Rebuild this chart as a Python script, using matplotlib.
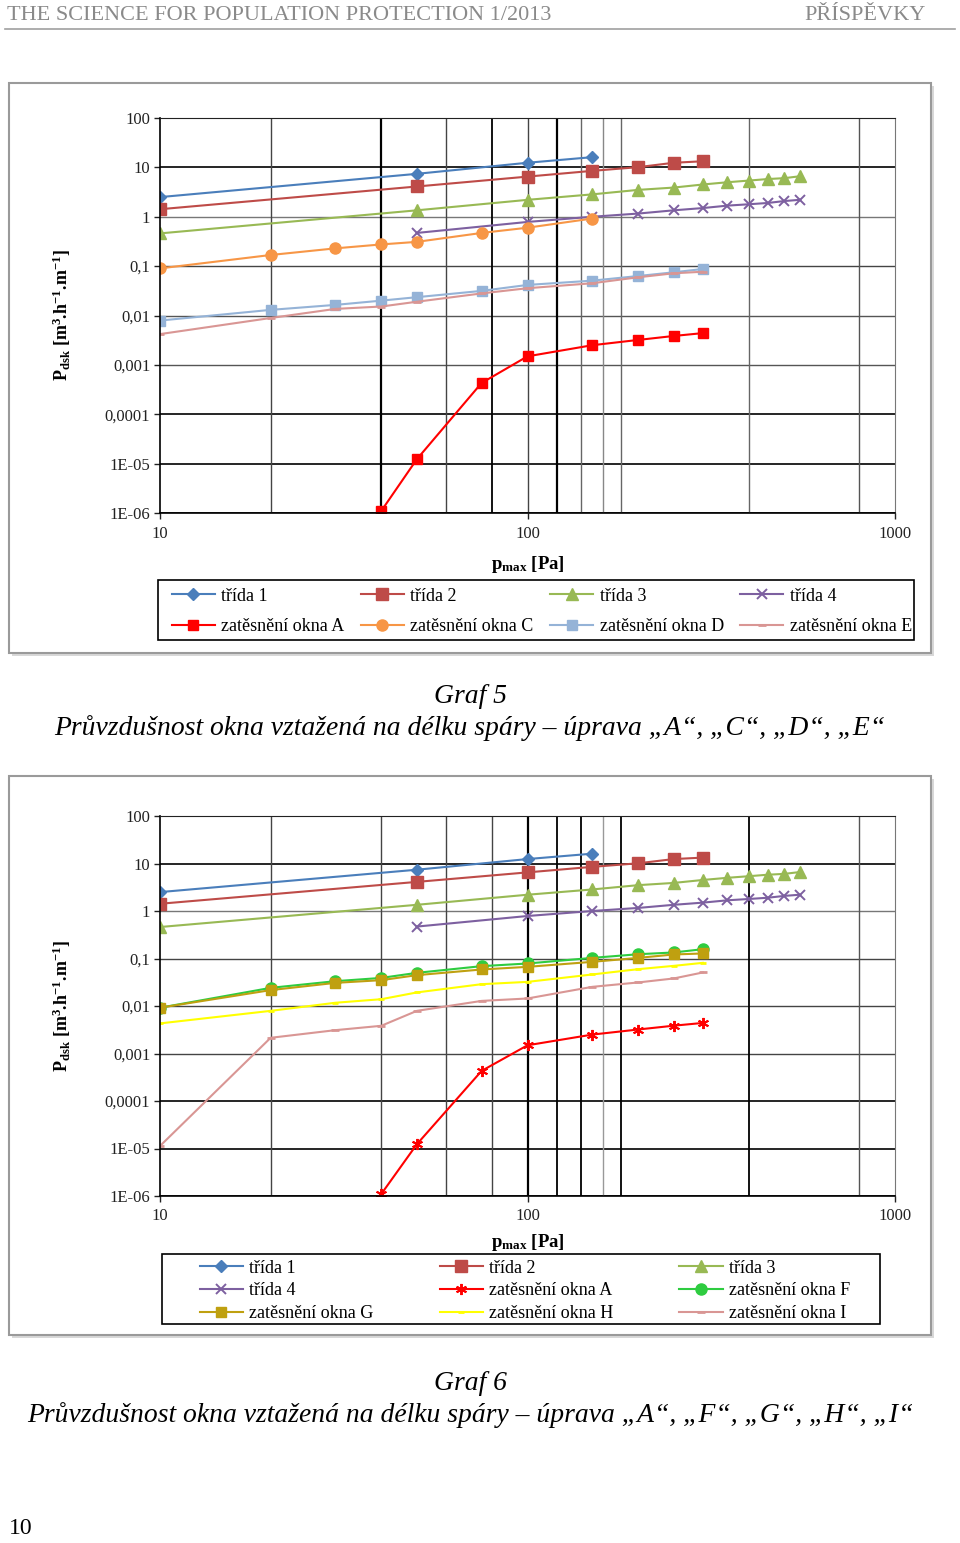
import numpy as np
import matplotlib.pyplot as plt
from matplotlib.patches import Rectangle
from matplotlib.ticker import NullLocator

plt.rcParams['font.family'] = ['Liberation Serif', 'DejaVu Serif']
plt.rcParams['mathtext.fontset'] = 'custom'
plt.rcParams['mathtext.rm'] = 'Liberation Serif:bold'
plt.rcParams['mathtext.it'] = 'Liberation Serif:italic:bold'
plt.rcParams['mathtext.bf'] = 'Liberation Serif:bold'

# --- data ---
y_ticks = [1e-6, 1e-5, 1e-4, 1e-3, 1e-2, 1e-1, 1, 10, 100]
y_labels = ['1E-06', '1E-05', '0,0001', '0,001', '0,01', '0,1', '1', '10', '100']
x_ticks = [10, 100, 1000]
x_labels = ['10', '100', '1000']
v_grid = [20, 40, 60, 80, 100, 120, 140, 160, 180, 400, 800]

p_t1 = [10, 50, 100, 150]
q_t1 = [2.5, 7.4, 12.4, 16.1]
p_t2 = [10, 50, 100, 150, 200, 250, 300]
q_t2 = [1.42, 4.1, 6.5, 8.5, 10.1, 12.4, 13.3]
p_t3 = [10, 50, 100, 150, 200, 250, 300, 350, 400, 450, 500, 550]
q_t3 = [0.46, 1.35, 2.2, 2.84, 3.5, 3.9, 4.5, 5.0, 5.4, 5.8, 6.05, 6.6]
p_t4 = [50, 100, 150, 200, 250, 300, 350, 400, 450, 500, 550]
q_t4 = [0.47, 0.785, 1.0, 1.16, 1.35, 1.5, 1.68, 1.79, 1.9, 2.08, 2.2]

p_A = [40, 50, 75, 100, 150, 200, 250, 300]
q_A = [1.1e-6, 1.23e-5, 4.3e-4, 1.49e-3, 2.5e-3, 3.2e-3, 3.85e-3, 4.4e-3]

p_seal = [10, 20, 30, 40, 50, 75, 100, 150, 200, 250, 300]
p_C = [10, 20, 30, 40, 50, 75, 100, 150]
q_C = [0.09, 0.168, 0.229, 0.275, 0.31, 0.47, 0.6, 0.92]
q_D = [0.0079, 0.013, 0.0164, 0.02, 0.0235, 0.0315, 0.0416, 0.0508, 0.063, 0.075, 0.0875]
q_E = [0.0042, 0.0089, 0.0136, 0.0152, 0.019, 0.028, 0.0357, 0.045, 0.0594, 0.0716, 0.077]
q_F = [0.0092, 0.0241, 0.0333, 0.039, 0.0499, 0.069, 0.0785, 0.103, 0.123, 0.134, 0.157]
q_G = [0.0092, 0.0216, 0.0307, 0.035, 0.0446, 0.0587, 0.0667, 0.085, 0.103, 0.1216, 0.1276]
q_H = [0.0043, 0.0079, 0.0117, 0.0139, 0.0193, 0.0288, 0.0322, 0.0461, 0.0596, 0.07, 0.081]
q_I = [1.13e-5, 0.00214, 0.0031, 0.00383, 0.0079, 0.0128, 0.0144, 0.0253, 0.0313, 0.038, 0.0508]

W, H = 960, 1543
fig = plt.figure(figsize=(W / 100, H / 100), dpi=100)


def fx(x):
    return x / W


def fy(y):
    return 1 - y / H


def px_axes(left, top, right, bottom):
    return fig.add_axes([fx(left), fy(bottom), (right - left) / W, (bottom - top) / H])


def setup(ax, vstyle, hstyle):
    ax.set_xscale('log')
    ax.set_yscale('log')
    ax.set_xlim(10, 1000)
    ax.set_ylim(1e-6, 100)
    ax.set_yticks(y_ticks)
    ax.set_yticklabels(y_labels)
    ax.set_xticks(x_ticks)
    ax.set_xticklabels(x_labels)
    ax.xaxis.set_minor_locator(NullLocator())
    ax.yaxis.set_minor_locator(NullLocator())
    for v, (c, w) in zip(y_ticks, hstyle):
        ax.axhline(v, color=c, lw=w, zorder=1)
    for v, (c, w) in zip(v_grid, vstyle):
        ax.axvline(v, color=c, lw=w, zorder=1)
    ax.tick_params(direction='out', length=4, width=1, labelsize=12, pad=3,
                   colors='#222222')
    ax.tick_params(axis='x', pad=5)
    for s in ['left', 'bottom']:
        ax.spines[s].set_color('black')
        ax.spines[s].set_linewidth(1.2)
    ax.spines['top'].set_color('#222222')
    ax.spines['right'].set_color('#777777')
    ax.set_ylabel(r'P$_{\rm dsk}$ [m$^{3}$.h$^{-1}$.m$^{-1}$]', fontsize=13,
                  fontweight='bold')
    ax.set_xlabel(r'p$_{\rm max}$ [Pa]', fontsize=13.5, fontweight='bold')
    ax.yaxis.set_label_coords(-0.118, 0.5)


def frame(left, top, right, bottom):
    fig.patches.append(Rectangle((fx(left + 3), fy(bottom + 3)), (right - left) / W,
                                 (bottom - top) / H, transform=fig.transFigure,
                                 facecolor='#d8d8d8', edgecolor='none', zorder=-2))
    fig.patches.append(Rectangle((fx(left), fy(bottom)), (right - left) / W,
                                 (bottom - top) / H, transform=fig.transFigure,
                                 facecolor='white', edgecolor='#9a9a9a', lw=1.5,
                                 zorder=-1))


def legend_box(left, top, right, bottom):
    fig.patches.append(Rectangle((fx(left), fy(bottom)), (right - left) / W,
                                 (bottom - top) / H, transform=fig.transFigure,
                                 facecolor='white', edgecolor='black', lw=1.2,
                                 zorder=0))


# header
fig.text(fx(7), fy(15), 'THE SCIENCE FOR POPULATION PROTECTION 1/2013', fontsize=16,
         color='#8a8a8a', ha='left', va='center')
fig.text(fx(926), fy(15), 'PŘÍSPĚVKY', fontsize=16, color='#8a8a8a', ha='right',
         va='center')
fig.add_artist(plt.Line2D([fx(5), fx(955)], [fy(29), fy(29)], color='#a0a0a0', lw=1.2))

# ---------- Graf 5 ----------
frame(9, 83, 931, 653)
ax1 = px_axes(160, 118, 895, 513)
v1 = [('#444', 1), ('#000', 1.6), ('#444', 1), ('#000', 1.3), ('#444', 1),
      ('#000', 1.6), ('#666', 1), ('#888', 1), ('#666', 1), ('#666', 1), ('#555', 1)]
h1 = [('#000', 1.2), ('#000', 1.2), ('#000', 1.2), ('#555', 1), ('#555', 1),
      ('#444', 1), ('#777', 1), ('#000', 1.2), ('#000', 1.2)]
setup(ax1, v1, h1)
ax1.xaxis.set_label_coords(0.5, -0.105)

l_t1, = ax1.plot(p_t1, q_t1, color='#4A7EBB', lw=1.5, marker='D', ms=6, label='třída 1')
l_t2, = ax1.plot(p_t2, q_t2, color='#BE4B48', lw=1.5, marker='s', ms=8, label='třída 2')
l_t3, = ax1.plot(p_t3, q_t3, color='#98B954', lw=1.5, marker='^', ms=8, label='třída 3')
l_t4, = ax1.plot(p_t4, q_t4, color='#7D60A0', lw=1.5, marker='x', ms=7, mew=1.4,
                 label='třída 4')
l_A, = ax1.plot(p_A, q_A, color='#FF0000', lw=1.5, marker='s', ms=7,
                label='zatěsnění okna A')
l_C, = ax1.plot(p_C, q_C, color='#F79646', lw=1.5, marker='o', ms=8,
                label='zatěsnění okna C')
l_D, = ax1.plot(p_seal, q_D, color='#95B3D7', lw=1.5, marker='s', ms=7,
                label='zatěsnění okna D')
l_E, = ax1.plot(p_seal, q_E, color='#D99694', lw=1.5, marker='_', ms=6, mew=2,
                label='zatěsnění okna E')

legend_box(158, 580, 914, 640)
hs1 = [l_t1, l_A, l_t2, l_C, l_t3, l_D, l_t4, l_E]
fig.legend(hs1, [h.get_label() for h in hs1], ncol=4, loc='upper left',
           bbox_to_anchor=(fx(168), fy(584)), frameon=False, fontsize=13,
           handlelength=2.4, handletextpad=0.35, columnspacing=0.9,
           labelspacing=0.75, borderpad=0.2, borderaxespad=0)

fig.text(fx(470), fy(696), 'Graf 5', fontsize=19.9, style='italic', ha='center',
         va='center')
fig.text(fx(470), fy(728),
         'Průvzdušnost okna vztažená na délku spáry – úprava „A“, „C“, „D“, „E“',
         fontsize=19.9, style='italic', ha='center', va='center')

# ---------- Graf 6 ----------
frame(9, 776, 931, 1335)
ax2 = px_axes(160, 816, 895, 1196)
v2 = [('#444', 1), ('#444', 1), ('#444', 1), ('#444', 1), ('#000', 1.6),
      ('#000', 1.3), ('#000', 1.3), ('#999', 1), ('#000', 1.3), ('#000', 1.3), ('#555', 1)]
h2 = [('#000', 1.2), ('#000', 1.2), ('#000', 1.2), ('#444', 1), ('#444', 1),
      ('#444', 1), ('#777', 1), ('#000', 1.2), ('#000', 1.2)]
setup(ax2, v2, h2)
ax2.xaxis.set_label_coords(0.5, -0.095)

m_t1, = ax2.plot(p_t1, q_t1, color='#4A7EBB', lw=1.5, marker='D', ms=6, label='třída 1')
m_t2, = ax2.plot(p_t2, q_t2, color='#BE4B48', lw=1.5, marker='s', ms=8, label='třída 2')
m_t3, = ax2.plot(p_t3, q_t3, color='#98B954', lw=1.5, marker='^', ms=8, label='třída 3')
m_t4, = ax2.plot(p_t4, q_t4, color='#7D60A0', lw=1.5, marker='x', ms=7, mew=1.4,
                 label='třída 4')
m_A, = ax2.plot(p_A, q_A, color='#FF0000', lw=1.5, marker=(6, 2, 0), ms=8, mew=1.4,
                label='zatěsnění okna A')
m_F, = ax2.plot(p_seal, q_F, color='#2ECC40', lw=1.5, marker='o', ms=8,
                label='zatěsnění okna F')
m_G, = ax2.plot(p_seal, q_G, color='#BFA010', lw=1.5, marker='s', ms=7.5,
                label='zatěsnění okna G')
m_H, = ax2.plot(p_seal, q_H, color='#FFFF00', lw=1.5, marker='_', ms=5, mew=2,
                label='zatěsnění okna H')
m_I, = ax2.plot(p_seal, q_I, color='#D99694', lw=1.5, marker='_', ms=6, mew=2,
                label='zatěsnění okna I')

legend_box(162, 1254, 880, 1324)
hs2 = [m_t1, m_t4, m_G, m_t2, m_A, m_H, m_t3, m_F, m_I]
fig.legend(hs2, [h.get_label() for h in hs2], ncol=3, loc='upper left',
           bbox_to_anchor=(fx(196), fy(1256)), frameon=False, fontsize=13,
           handlelength=2.4, handletextpad=0.35, columnspacing=3.65,
           labelspacing=0.32, borderpad=0.2, borderaxespad=0)

fig.text(fx(470), fy(1384), 'Graf 6', fontsize=19.9, style='italic', ha='center',
         va='center')
fig.text(fx(470), fy(1415),
         'Průvzdušnost okna vztažená na délku spáry – úprava „A“, „F“, „G“, „H“, „I“',
         fontsize=19.9, style='italic', ha='center', va='center')

fig.text(fx(9), fy(1528), '10', fontsize=17, ha='left', va='center')

fig.savefig('out.png', dpi=100)
